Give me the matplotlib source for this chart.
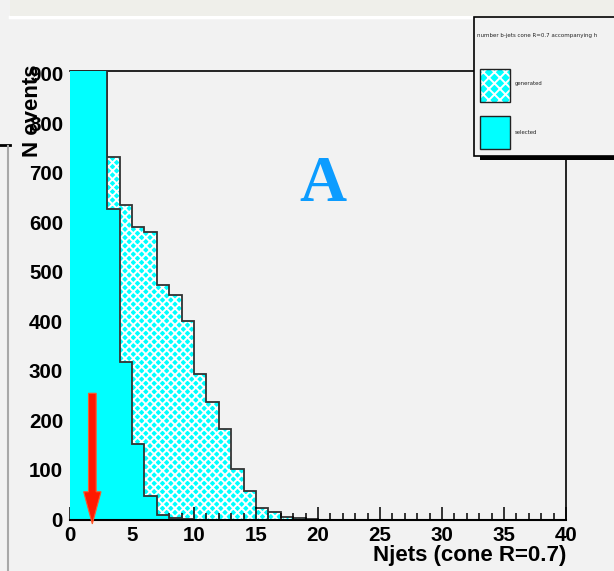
import numpy as np
import matplotlib
matplotlib.use("Agg")
import matplotlib.pyplot as plt
from matplotlib.patches import Rectangle
from matplotlib.lines import Line2D

# ---------------- data ----------------
bin_edges = list(range(0, 41))
# generated events per Njets bin (first bins exceed the y range)
generated = [1400, 1300, 1100, 733, 636, 591, 581, 474, 453, 401, 293, 237, 182, 103,
             57, 23, 15, 5, 3, 1, 0, 0, 0, 0, 0, 0, 0, 0, 0, 0, 0, 0, 0, 0, 0, 0, 0, 0, 0, 0]
# selected events per Njets bin
selected = [1300, 1200, 1000, 628, 318, 152, 47, 10, 3, 1, 0, 0, 0, 0,
            0, 0, 0, 0, 0, 0, 0, 0, 0, 0, 0, 0, 0, 0, 0, 0, 0, 0, 0, 0, 0, 0, 0, 0, 0, 0]
x_ticks = [0, 5, 10, 15, 20, 25, 30, 35, 40]
y_ticks = [0, 100, 200, 300, 400, 500, 600, 700, 800, 900]
y_max = 906
cut_value = 1.8
arrow_top = 255

# ---------------- figure ----------------
W, H = 614, 571
BG = "#f2f2f2"
CYAN = "#00ffff"
fig = plt.figure(figsize=(W / 100, H / 100), dpi=100, facecolor=BG)
plt.rcParams["hatch.linewidth"] = 1.4

def fx(px):
    return px / W

def fy(py):
    return 1 - py / H

# screenshot decorations
fig.patches.append(Rectangle((fx(10), fy(16)), fx(604), 16 / H, transform=fig.transFigure,
                             facecolor="#efefea", edgecolor="none", zorder=0))
fig.lines.append(Line2D([fx(10), 1], [fy(17), fy(17)], transform=fig.transFigure,
                        color="white", lw=2.5, zorder=0))
fig.lines.append(Line2D([0, fx(10)], [fy(145), fy(145)], transform=fig.transFigure,
                        color="black", lw=2, zorder=0))
fig.lines.append(Line2D([fx(8), fx(8)], [fy(146), 0], transform=fig.transFigure,
                        color="#a8a8a8", lw=1.5, zorder=0))

ax = fig.add_axes([fx(70), 1 - 519.5 / H, fx(496), 448.5 / H])
ax.set_facecolor(BG)

HATCH = "xxxx"
# generated: hatched fill + outline
ax.stairs(generated, bin_edges, fill=True, facecolor=CYAN, edgecolor="white",
          hatch=HATCH, linewidth=0, zorder=1)
ax.stairs(generated, bin_edges, baseline=None, color="#333333", linewidth=1.3, zorder=1.2)
# selected: solid fill + outline
ax.stairs(selected, bin_edges, fill=True, facecolor=CYAN, edgecolor=CYAN, linewidth=0, zorder=3)
ax.stairs(selected, bin_edges, baseline=None, color="#333333", linewidth=1.3, zorder=3.1)

ax.set_xlim(0, 40)
ax.set_ylim(0, y_max)

for s in ["left", "top", "right"]:
    ax.spines[s].set_zorder(2.8)
    ax.spines[s].set_linewidth(1.2)
ax.spines["left"].set_visible(False)
ax.spines["bottom"].set_zorder(4)
ax.spines["bottom"].set_linewidth(1.5)

FS = 14.8
ax.set_xticks(x_ticks)
ax.set_xticks(bin_edges, minor=True)
ax.set_yticks(y_ticks)
ax.tick_params(axis="x", which="major", direction="in", length=9.5, width=1.1, pad=4.5,
               labelsize=FS)
ax.tick_params(axis="x", which="minor", direction="in", length=5, width=1.1)
ax.tick_params(axis="y", which="both", length=0, pad=5, labelsize=FS)
for lab in ax.get_xticklabels() + ax.get_yticklabels():
    lab.set_fontweight("bold")
    lab.set_family("Liberation Sans")

ax.set_xlabel("Njets (cone R=0.7)", loc="right", fontsize=16, fontweight="bold",
              family="Liberation Sans", labelpad=0)
ax.text(-0.0766, 1.0134, "N events", transform=ax.transAxes, rotation=90, ha="center",
        va="top", fontsize=16, fontweight="bold", family="Liberation Sans", zorder=5)

# big label
ax.text(0.509, 0.745, "A", transform=ax.transAxes, ha="center", va="center",
        fontsize=47, fontweight="bold", family="Liberation Serif", color="#0c9cff", zorder=5)

# cut arrow
ax.arrow(cut_value, arrow_top, 0, -arrow_top - 9, width=0.62, head_width=1.4,
         head_length=65, length_includes_head=True, facecolor="#ff1a00",
         edgecolor="#ff5a2a", linewidth=0.8, clip_on=False, zorder=6)

# legend box (drawn in figure pixels)
fig.patches.append(Rectangle((fx(480), fy(160)), fx(140), 4 / H, transform=fig.transFigure,
                             facecolor="black", edgecolor="none", zorder=9))
fig.patches.append(Rectangle((fx(474), fy(156)), fx(145), 139 / H, transform=fig.transFigure,
                             facecolor=BG, edgecolor="black", linewidth=1.2, zorder=10))
fig.text(fx(477), fy(35), "number b-jets cone R=0.7 accompanying h", fontsize=4.0,
         va="center", ha="left", color="#222222", zorder=11)
fig.patches.append(Rectangle((fx(480), fy(102)), fx(30), 33 / H, transform=fig.transFigure,
                             facecolor=CYAN, edgecolor="white", hatch="xxx", linewidth=0,
                             zorder=11))
fig.patches.append(Rectangle((fx(480), fy(102)), fx(30), 33 / H, transform=fig.transFigure,
                             facecolor="none", edgecolor="#222222", linewidth=1.0, zorder=12))
fig.text(fx(515), fy(84), "generated", fontsize=3.9, va="center", ha="left",
         color="#222222", zorder=11)
fig.patches.append(Rectangle((fx(480), fy(149)), fx(30), 33 / H, transform=fig.transFigure,
                             facecolor=CYAN, edgecolor="#222222", linewidth=1.0, zorder=11))
fig.text(fx(515), fy(132), "selected", fontsize=3.9, va="center", ha="left",
         color="#222222", zorder=11)

fig.savefig("out.png", dpi=100, facecolor=BG)
